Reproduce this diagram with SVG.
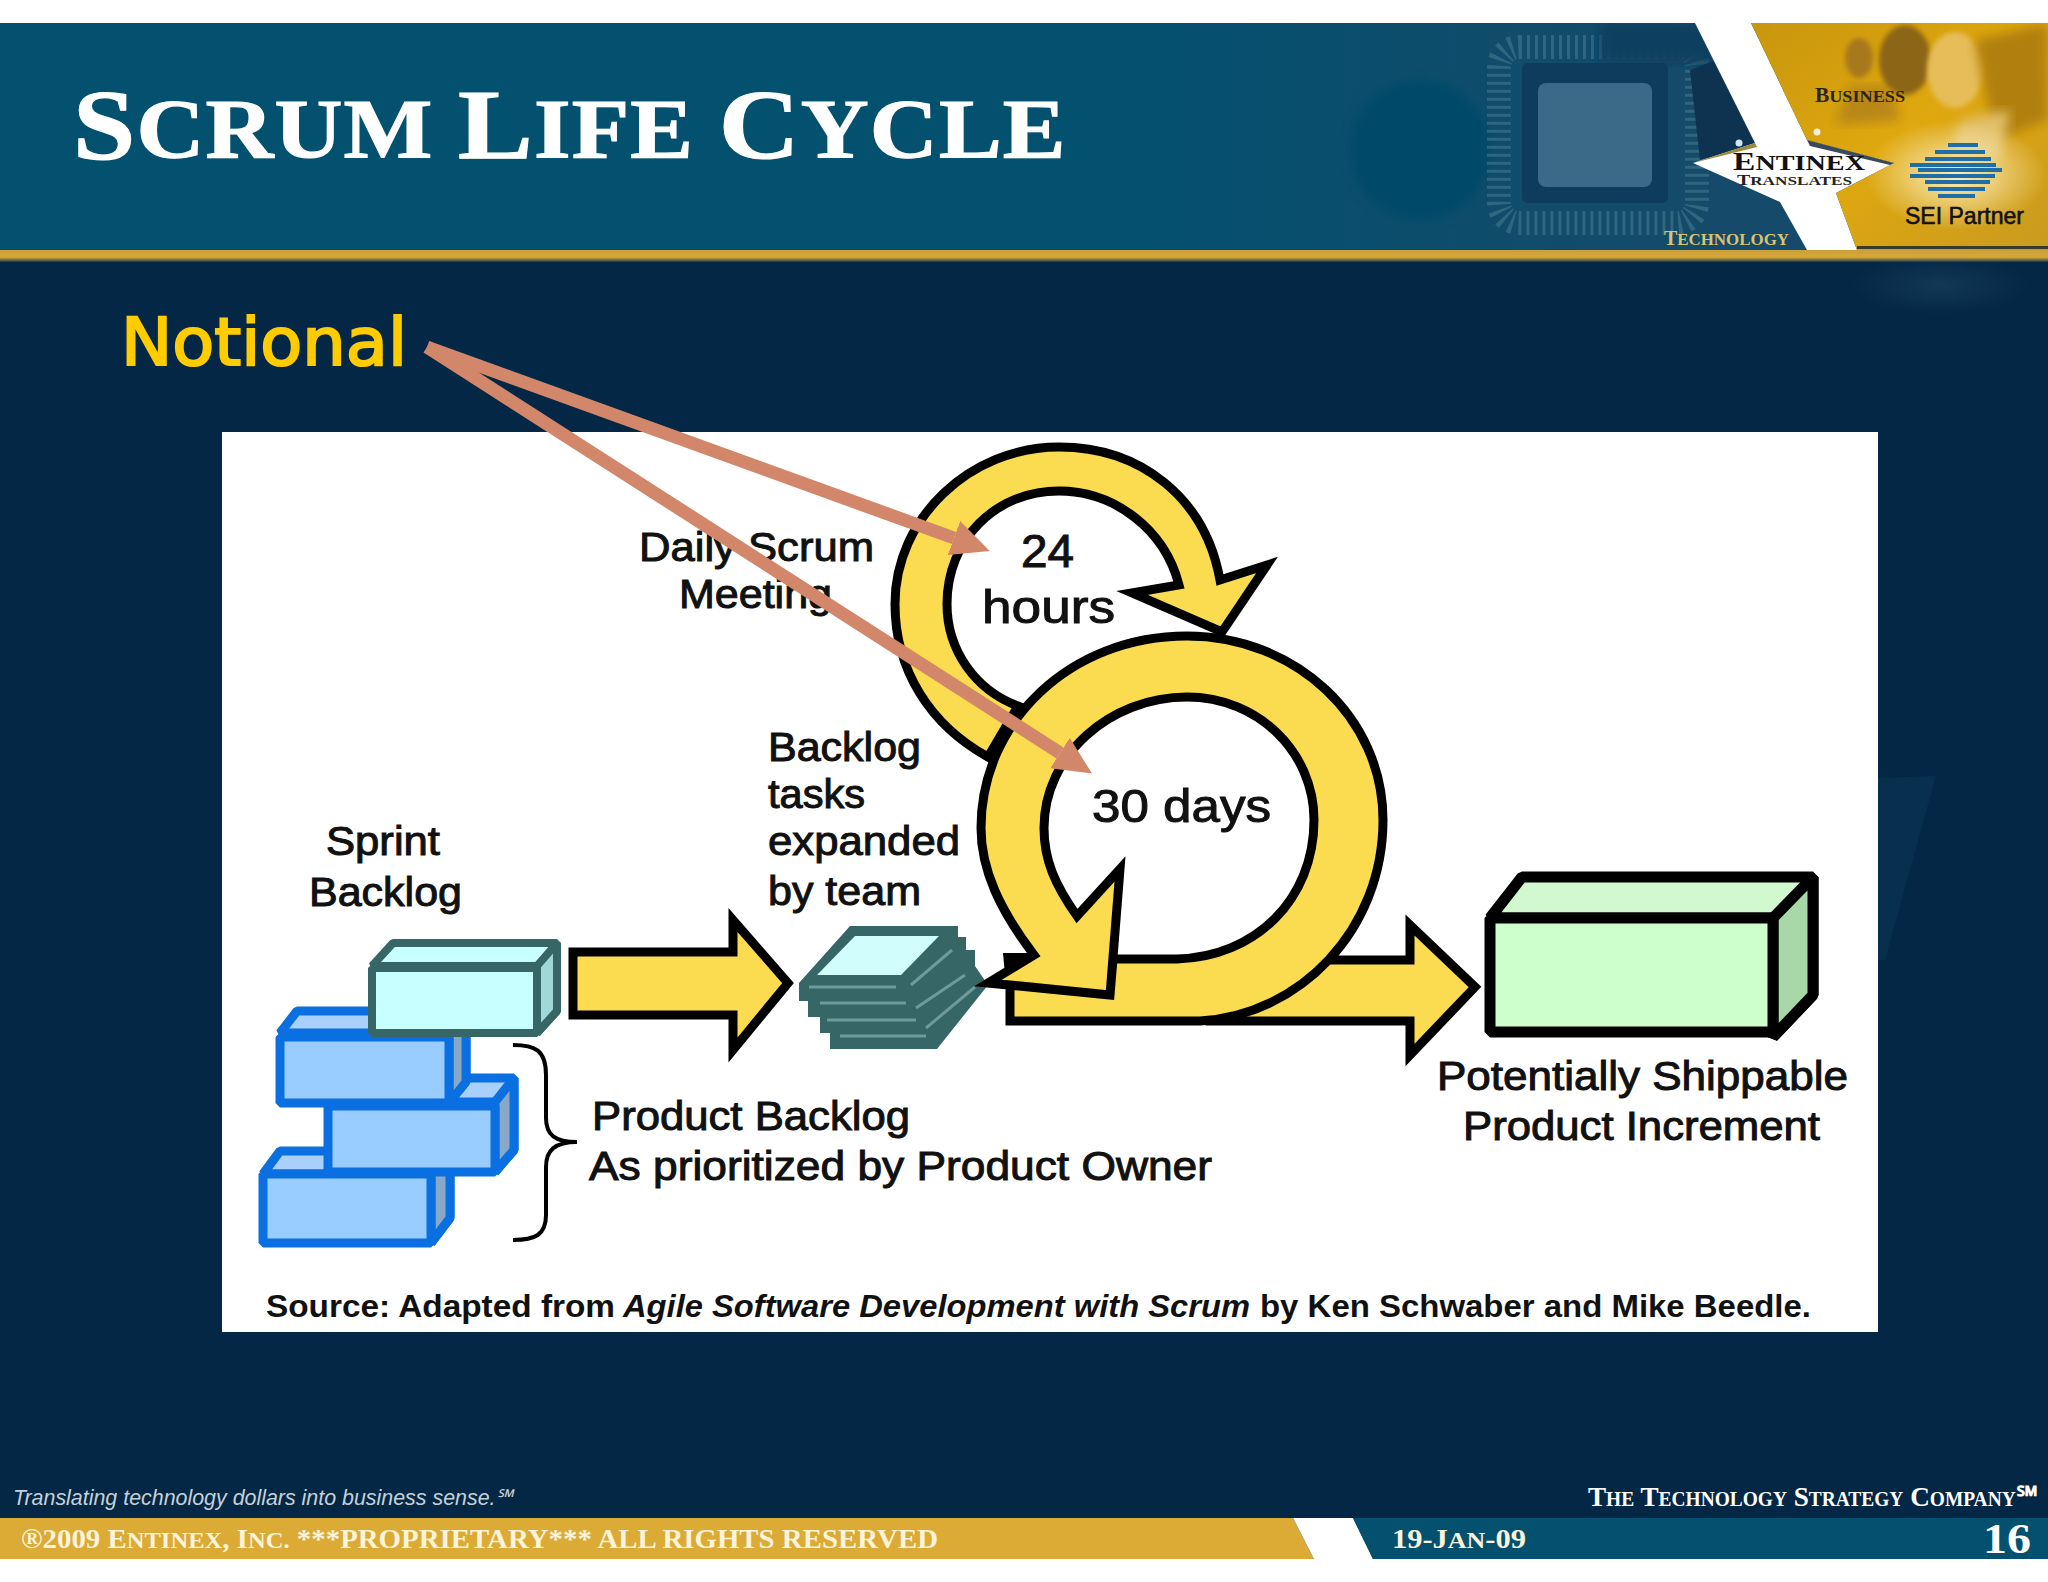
<svg xmlns="http://www.w3.org/2000/svg" width="2048" height="1582" viewBox="0 0 2048 1582">
<defs>
<linearGradient id="hdr" x1="0" x2="1" y1="0" y2="0"><stop offset="0" stop-color="#04506f"/><stop offset="0.55" stop-color="#04506f"/><stop offset="0.84" stop-color="#164a6a"/></linearGradient>
<linearGradient id="goldbar" x1="0" x2="0" y1="0" y2="1"><stop offset="0" stop-color="#c9a038"/><stop offset="0.6" stop-color="#d8a73a"/><stop offset="1" stop-color="#1c3a48"/></linearGradient>
<linearGradient id="gold" x1="0" x2="1" y1="0" y2="1"><stop offset="0" stop-color="#c8960e"/><stop offset="0.5" stop-color="#dfa80f"/><stop offset="1" stop-color="#c99a20"/></linearGradient>
<radialGradient id="glow"><stop offset="0" stop-color="#fff4c8" stop-opacity="0.95"/><stop offset="1" stop-color="#fff4c8" stop-opacity="0"/></radialGradient>
<radialGradient id="glow2"><stop offset="0" stop-color="#4a7390" stop-opacity="0.22"/><stop offset="1" stop-color="#4a7390" stop-opacity="0"/></radialGradient>
<filter id="b2"><feGaussianBlur stdDeviation="2.5"/></filter>
<filter id="b6"><feGaussianBlur stdDeviation="6"/></filter>
<clipPath id="hclip"><rect y="23" width="2048" height="227"/></clipPath>
<marker id="salmon" markerUnits="userSpaceOnUse" markerWidth="40" markerHeight="38" refX="0" refY="18" orient="auto"><path d="M0 0L38 18L0 36Z" fill="#d2866a"/></marker>
<style>
.lbl{font-family:"Liberation Sans",Arial,sans-serif;font-size:40px;fill:#111;stroke:#111;stroke-width:1px}
.big{font-size:46px}
.src{font-family:"Liberation Sans",Arial,sans-serif;font-size:31px;font-weight:bold;fill:#111}
.cp{font-family:"Liberation Serif","Times New Roman",serif;font-weight:bold}
.up{text-transform:uppercase}
.ftr{font-size:23px;fill:#fbf3da}
.ftb{font-size:27px;fill:#fbf3da}
.y{fill:#fbdc50;stroke:#000;stroke-width:9;stroke-linejoin:miter;stroke-miterlimit:12}
.teal{stroke:#376666;stroke-width:8;stroke-linejoin:bevel}
.blue{stroke:#0a6fe0;stroke-width:9;stroke-linejoin:bevel}
.grn{stroke:#000;stroke-width:11;stroke-linejoin:bevel}
.sal{stroke:#d2866a;stroke-width:13;fill:none;marker-end:url(#salmon)}
.sei{stroke:#1f6ea8;stroke-width:4}
</style>
</defs>
<rect width="2048" height="1582" fill="#032744"/>
<rect y="0" width="2048" height="23" fill="#fff"/>
<g id="header">
<rect y="23" width="2048" height="227" fill="url(#hdr)"/>
<g clip-path="url(#hclip)">
<ellipse cx="1420" cy="150" rx="70" ry="70" fill="#044a69" filter="url(#b6)"/>
<g id="chip">
<rect x="1499" y="47" width="198" height="176" rx="20" fill="none" stroke="#41748a" stroke-width="24" stroke-dasharray="3 5" opacity=".65"/>
<rect x="1600" y="23" width="120" height="40" fill="#10405f" filter="url(#b6)"/>
<polygon points="1690,70 1730,55 1755,143 1700,160" fill="#0d3350"/>
<rect x="1522" y="63" width="146" height="140" rx="6" fill="#0d3c5c"/>
<rect x="1538" y="83" width="114" height="104" rx="8" fill="#3b6a88"/>
</g>
<polygon points="1695,23 1751,23 1807,140 1894,163 1836,193 1857,250 1807,250 1780,202 1693,163 1755,143" fill="#fff"/>
<polygon points="1751,23 2048,23 2048,250 1857,250 1836,193 1894,163 1807,140" fill="url(#gold)"/>
<g id="people">
<ellipse cx="1859" cy="58" rx="14" ry="20" fill="#a8781a" filter="url(#b2)"/>
<polygon points="1835,125 1850,85 1890,85 1900,120" fill="#b98712" filter="url(#b6)"/>
<ellipse cx="1905" cy="60" rx="26" ry="35" fill="#8c6512" filter="url(#b2)"/>
<ellipse cx="1955" cy="70" rx="28" ry="38" fill="#e6bd58" filter="url(#b2)"/>
<polygon points="1975,40 2048,23 2048,120 1995,140" fill="#b17f10" filter="url(#b6)"/>
<polygon points="1960,120 2010,110 2000,160 1950,150" fill="#e2c069" filter="url(#b6)"/>
</g>
<ellipse cx="1956" cy="175" rx="90" ry="55" fill="url(#glow)"/>
</g>
<rect x="1857" y="246" width="191" height="3" fill="#3a3a2a"/>
<polygon points="1693,163 1755,143 1757,147" fill="#9a8a3a"/>
<polygon points="1807,140 1894,163 1890,165 1810,146" fill="#3a4a5a"/>
<circle cx="1739" cy="143" r="3.5" fill="#cfe6f4"/>
<circle cx="1817" cy="132" r="3.5" fill="#f6f0d8"/>
<g id="sei-logo">
<path class="sei" d="M1948 145H1978M1935 152H1985M1925 159H1991M1910 165H1996M1918 170H2002M1910 176H1995M1925 182H1990M1928 189H1985M1938 196H1975"/>
</g>
<text class="cp" x="1815" y="102" font-size="20" fill="#2a2410" textLength="90" lengthAdjust="spacingAndGlyphs">B<tspan class="up" font-size="17">usiness</tspan></text>
<text class="cp" x="1664" y="245" font-size="20" fill="#d8c46a" textLength="125" lengthAdjust="spacingAndGlyphs">T<tspan class="up" font-size="17">echnology</tspan></text>
<text class="cp" x="1733" y="170" font-size="25" fill="#111" textLength="132" lengthAdjust="spacingAndGlyphs">E<tspan class="up" font-size="21">ntinex</tspan></text>
<text class="cp" x="1737" y="185" font-size="15" fill="#222" textLength="115" lengthAdjust="spacingAndGlyphs">T<tspan class="up" font-size="13">ranslates</tspan></text>
<text x="1905" y="224" font-family="Liberation Sans,Arial,sans-serif" font-size="24" fill="#111" stroke="#111" stroke-width=".6" textLength="119" lengthAdjust="spacingAndGlyphs">SEI Partner</text>
<text class="cp" x="73" y="158" font-size="100" fill="#fff" stroke="#fff" stroke-width="1.2" transform="translate(73 0) scale(1.12 1) translate(-73 0)" letter-spacing="1">S<tspan class="up" font-size="84">crum </tspan>L<tspan class="up" font-size="84">ife </tspan>C<tspan class="up" font-size="84">ycle</tspan></text>
</g>
<rect y="250" width="2048" height="12" fill="url(#goldbar)"/>
<ellipse cx="1940" cy="285" rx="90" ry="30" fill="url(#glow2)"/>
<polygon points="1877,778 1936,776 1885,960 1877,960" fill="#07304e"/>
<text id="notional" x="121" y="365" font-family="DejaVu Sans,Verdana,sans-serif" font-size="66" fill="#ffcc00" stroke="#ffcc00" stroke-width="2.2" textLength="286" lengthAdjust="spacingAndGlyphs">Notional</text>
<rect id="panel" x="222" y="432" width="1656" height="900" fill="#fff"/>
<g id="product-backlog">
<g id="pb3"><polygon points="280,1151 450,1151 450,1218 431,1243 431,1174 263,1174" fill="#a8d0fa" class="blue"/><polygon points="431,1174 450,1151 450,1218 431,1243" fill="#88a8c8" class="blue"/><rect x="263" y="1174" width="168" height="69" fill="#99ccff" class="blue"/></g>
<g id="pb2"><polygon points="345,1078 514,1078 514,1150 495,1172 495,1102 324,1102" fill="#a8d0fa" class="blue"/><polygon points="495,1102 514,1078 514,1150 495,1172" fill="#88a8c8" class="blue"/><rect x="328" y="1106" width="167" height="66" fill="#99ccff" class="blue"/></g>
<g id="pb1"><polygon points="297,1011 466,1011 466,1080 449,1103 449,1033 280,1033" fill="#a8d0fa" class="blue"/><polygon points="449,1036 466,1012 466,1082 449,1103" fill="#88a8c8" class="blue"/><rect x="280" y="1037" width="169" height="66" fill="#99ccff" class="blue"/></g>
</g>
<g id="sprint-backlog">
<polygon points="393,943 557,943 557,1011 537,1033 537,966 372,966" fill="#c8ffff" class="teal"/>
<polygon points="537,966 557,943 557,1011 537,1033" fill="#a0d8d8" class="teal"/>
<rect x="372" y="968" width="165" height="65" fill="#c8ffff" class="teal"/>
</g>
<g id="stack">
<polygon points="850,926 958,926 958,937 966,937 966,950 975,950 975,966 988,985 937,1049 830,1049 830,1033 820,1033 820,1017 808,1017 808,1001 799,1001 799,983" fill="#376666"/>
<polygon points="817,975 901,975 939,936 855,936" fill="#d2fdfd"/>
<path d="M809 987H896M820 1003H906M827 1020H916M840 1036H926M911 985L952 950M916 1008L965 975M926 1028L975 987" stroke="#6d9a9a" stroke-width="3" fill="none"/>
</g>
<g id="product-increment">
<polygon points="1522,877 1813,877 1813,995 1773,1037 1773,918 1490,918" fill="#d2f8d0" class="grn"/>
<polygon points="1773,918 1813,877 1813,995 1773,1037" fill="#a8d8a8" class="grn"/>
<rect x="1490" y="918" width="283" height="114" fill="#ccffcc" class="grn"/>
</g>
<path id="brace" d="M513 1045C535 1045 546 1050 546 1075V1118C546 1135 555 1142 577 1142C555 1142 546 1150 546 1167V1215C546 1235 535 1240 513 1240" fill="none" stroke="#000" stroke-width="4"/>
<g id="labels">
<text class="lbl" x="639" y="561" textLength="235" lengthAdjust="spacingAndGlyphs">Daily Scrum</text>
<text class="lbl" x="679" y="608" textLength="153" lengthAdjust="spacingAndGlyphs">Meeting</text>
<text class="lbl big" x="1021" y="567" textLength="53" lengthAdjust="spacingAndGlyphs">24</text>
<text class="lbl big" x="982" y="623" textLength="133" lengthAdjust="spacingAndGlyphs">hours</text>
<text class="lbl" x="768" y="761" textLength="153" lengthAdjust="spacingAndGlyphs">Backlog</text>
<text class="lbl" x="768" y="808" textLength="97" lengthAdjust="spacingAndGlyphs">tasks</text>
<text class="lbl" x="768" y="855" textLength="192" lengthAdjust="spacingAndGlyphs">expanded</text>
<text class="lbl" x="768" y="905" textLength="153" lengthAdjust="spacingAndGlyphs">by team</text>
<text class="lbl big" x="1092" y="822" textLength="179" lengthAdjust="spacingAndGlyphs">30 days</text>
<text class="lbl" x="326" y="855" textLength="114" lengthAdjust="spacingAndGlyphs">Sprint</text>
<text class="lbl" x="309" y="906" textLength="153" lengthAdjust="spacingAndGlyphs">Backlog</text>
<text class="lbl" x="592" y="1130" textLength="318" lengthAdjust="spacingAndGlyphs">Product Backlog</text>
<text class="lbl" x="589" y="1180" textLength="623" lengthAdjust="spacingAndGlyphs">As prioritized by Product Owner</text>
<text class="lbl" x="1437" y="1090" textLength="411" lengthAdjust="spacingAndGlyphs">Potentially Shippable</text>
<text class="lbl" x="1463" y="1140" textLength="357" lengthAdjust="spacingAndGlyphs">Product Increment</text>
<text class="src" x="266" y="1317" textLength="349" lengthAdjust="spacingAndGlyphs">Source: Adapted from</text>
<text class="src" x="623" y="1317" font-style="italic" textLength="627" lengthAdjust="spacingAndGlyphs">Agile Software Development with Scrum</text>
<text class="src" x="1260" y="1317" textLength="551" lengthAdjust="spacingAndGlyphs">by Ken Schwaber and Mike Beedle.</text>
</g>
<g id="connectors">
<polygon id="sprint-arrow" class="y" points="573,952 733,952 733,920 788,983 733,1050 733,1015 573,1015"/>
<polygon id="exit-arrow" class="y" points="1210,960 1410,960 1410,925 1475,987 1410,1055 1410,1021 1210,1021"/>
<path id="daily-loop" class="y" d="M988 757C930 725 895 670 895 604C895 518 970 447 1059 447C1140 447 1205 497 1220 580L1267 565L1222 632L1132 593L1179 585C1165 530 1115 491 1059 491C995 491 947 540 947 604C947 650 975 690 1018 706Z"/>
<polygon points="1003,953 1034,953 992,987 1005,975" fill="#000"/>
<path id="sprint-loop" class="y" d="M1034 955C1000 910 981 870 981 828C981 722 1070 636 1187 636C1295 636 1383 717 1383 820C1383 930 1300 1015 1200 1021L1010 1021L1010 985L1110 995L1113 959L1177 959C1255 957 1314 900 1314 820C1314 752 1258 697 1187 697C1110 697 1044 755 1044 828C1044 860 1055 885 1077 916L1120 869L1110 995L988 983Z"/>
<line class="sal" x1="427" y1="347" x2="954" y2="538"/>
<line class="sal" x1="427" y1="347" x2="1060" y2="753"/>
</g>
<g id="footer">
<rect y="1559" width="2048" height="23" fill="#fff"/>
<polygon points="0,1518 1293,1518 1314,1559 0,1559" fill="#dbab36"/>
<polygon points="1293,1518 1353,1518 1373,1559 1314,1559" fill="#fff"/>
<polygon points="1353,1518 2048,1518 2048,1559 1373,1559" fill="#04506f"/>
<text x="13" y="1505" font-family="Liberation Sans,Arial,sans-serif" font-style="italic" font-size="22" fill="#c6d0d8" textLength="500" lengthAdjust="spacingAndGlyphs">Translating technology dollars into business sense.℠</text>
<text class="cp" x="1588" y="1506" fill="#fff" font-size="28" style="font-variant:small-caps" textLength="450" lengthAdjust="spacingAndGlyphs">The Technology Strategy Company℠</text>
<text class="cp ftb" x="21" y="1548" textLength="917" lengthAdjust="spacingAndGlyphs">®2009 E<tspan class="up ftr">ntinex</tspan>, I<tspan class="up ftr">nc.</tspan> ***PROPRIETARY*** ALL RIGHTS RESERVED</text>
<text class="cp ftb" x="1392" y="1548" textLength="134" lengthAdjust="spacingAndGlyphs">19-J<tspan class="up ftr">an</tspan>-09</text>
<text class="cp" x="1983" y="1553" font-size="42" fill="#fff" textLength="48" lengthAdjust="spacingAndGlyphs">16</text>
</g>
</svg>
